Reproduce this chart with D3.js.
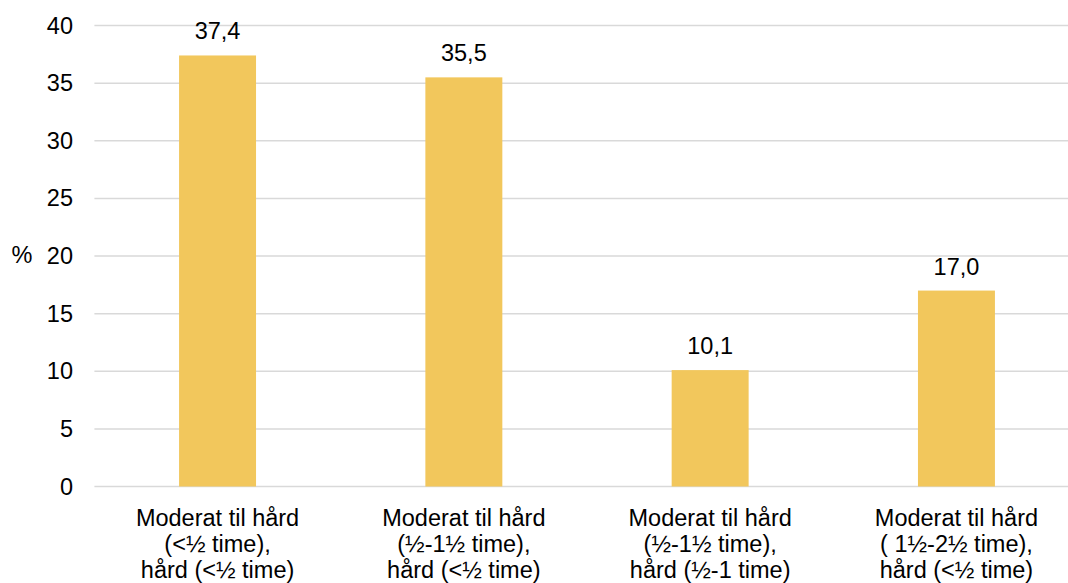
<!DOCTYPE html>
<html>
<head>
<meta charset="utf-8">
<script src="https://cdn.jsdelivr.net/npm/d3@7"></script>
<style>
  html, body { margin: 0; padding: 0; background: #fff; }
  svg { display: block; font-family: "Liberation Sans", Arial, sans-serif; }
</style>
</head>
<body>
<svg id="chart" width="1068" height="583"></svg>
<script>
const categories = [
  ["Moderat til hård", "(<½ time),", "hård (<½ time)"],
  ["Moderat til hård", "(½-1½ time),", "hård (<½ time)"],
  ["Moderat til hård", "(½-1½ time),", "hård (½-1 time)"],
  ["Moderat til hård", "( 1½-2½ time),", "hård (<½ time)"]
];
const values = [37.4, 35.5, 10.1, 17.0];
const yTicks = [0, 5, 10, 15, 20, 25, 30, 35, 40];
const yLabel = "%";

const FS = 23.5;
const svg = d3.select("#chart");
const plotLeft = 94.4, plotRight = 1079.6, plotTop = 25.5, plotBottom = 486.5;

const x = d3.scaleBand()
  .domain(d3.range(values.length))
  .range([plotLeft, plotRight])
  .paddingInner(0.6875)
  .paddingOuter(0.34375);

const y = d3.scaleLinear().domain([0, 40]).range([plotBottom, plotTop]);

const fmt = v => v.toFixed(1).replace(".", ",");

// gridlines
svg.append("g").selectAll("line").data(yTicks).join("line")
  .attr("x1", plotLeft).attr("x2", plotRight)
  .attr("y1", d => y(d)).attr("y2", d => y(d))
  .attr("stroke", "#d9d9d9").attr("stroke-width", 1.5);

// y tick labels
const yAxis = d3.axisLeft(y).tickValues(yTicks).tickSize(0).tickPadding(0);
const yg = svg.append("g").attr("transform", "translate(73,0)").call(yAxis);
yg.select(".domain").remove();
yg.selectAll("text").attr("font-size", FS).attr("fill", "#000")
  .attr("font-family", "Liberation Sans, Arial, sans-serif");

// y label
svg.append("text").attr("x", 22).attr("y", y(20)).attr("dy", "0.3em")
  .attr("text-anchor", "middle").attr("font-size", FS).attr("fill", "#000")
  .text(yLabel);

// bars
svg.append("g").selectAll("rect").data(values).join("rect")
  .attr("x", (d, i) => x(i))
  .attr("width", x.bandwidth())
  .attr("y", d => y(d))
  .attr("height", d => y(0) - y(d))
  .attr("fill", "#F2C75C");

// value labels
svg.append("g").selectAll("text").data(values).join("text")
  .attr("x", (d, i) => x(i) + x.bandwidth() / 2)
  .attr("y", d => y(d) - 16)
  .attr("text-anchor", "middle").attr("font-size", FS).attr("fill", "#000")
  .text(d => fmt(d));

// category labels
const cg = svg.append("g").selectAll("text").data(categories).join("text")
  .attr("text-anchor", "middle").attr("font-size", FS).attr("fill", "#000")
  .attr("transform", (d, i) => `translate(${x(i) + x.bandwidth() / 2},525.5)`);
cg.selectAll("tspan").data(d => d).join("tspan")
  .attr("x", 0).attr("y", (d, j) => j * 26.3)
  .text(d => d);
</script>
</body>
</html>
